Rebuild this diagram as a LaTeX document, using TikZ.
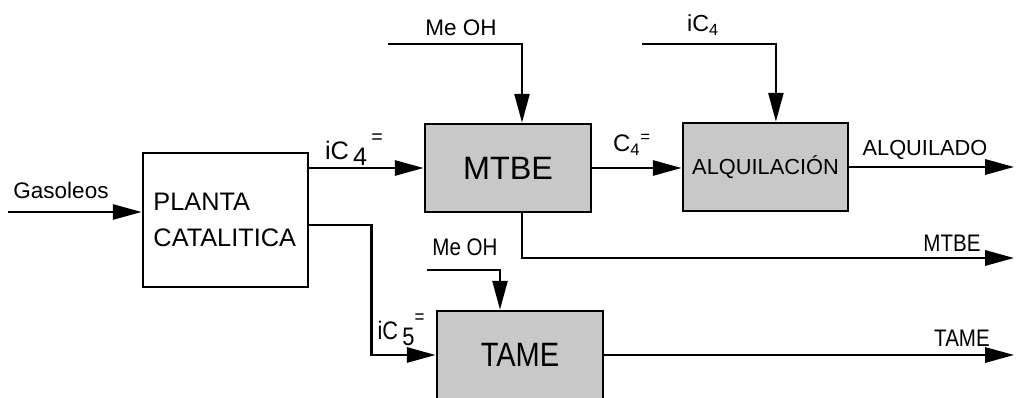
\documentclass[tikz,border=0pt]{standalone}
\usepackage{fontspec}
\setmainfont{Liberation Sans}
\newfontfamily\narrowsans{Liberation Sans}[FakeStretch=0.86]
\usetikzlibrary{arrows.meta,positioning}
\definecolor{unitgray}{RGB}{200,200,200}
\tikzset{
  unit/.style={rectangle, draw=black, line width=2pt, fill=white,
               minimum width=4.15cm, minimum height=2.2cm, align=center,
               font=\fontsize{23}{26}\selectfont},
  reactor/.style={unit, fill=unitgray},
  flow/.style={-{Triangle[length=0.72cm,width=0.38cm]}, line width=1.6pt},
  feed/.style={flow, line width=1.3pt},
  streamlbl/.style={font=\fontsize{15.5}{18}\selectfont, inner sep=1pt},
  narrowlbl/.style={streamlbl, font=\narrowsans\fontsize{17}{19}\selectfont},
}
\begin{document}
\begin{tikzpicture}[x=0.025cm, y=-0.025cm]
\useasboundingbox (0,0) rectangle (1016,398);
% process units
\node[unit, minimum width=4.125cm, minimum height=3.35cm, text width=3.6cm,
      align=left, font=\fontsize{18}{25.5}\selectfont] (planta) at (225.5,220) {PLANTA\\CATALITICA};
\node[reactor] (mtbe) at (508,168) {MTBE};
\node[reactor, minimum width=4.125cm, font=\fontsize{15.5}{18}\selectfont] (alq) at (765.5,167) {ALQUILACIÓN};
\node[reactor, font=\narrowsans\fontsize{24}{28}\selectfont] (tame) at (520,355) {TAME};
% free ends of the streams
\coordinate (gasin) at (8,212);
\coordinate (meohA) at (388,44);
\coordinate (ic4in) at (642,44);
\coordinate (meohB) at (427,270);
\coordinate (alqout) at (1014,167);
\coordinate (mtbeout) at (1014,258);
\coordinate (tameout) at (1014,355);
% streams
\draw[flow] (gasin) -- (gasin -| planta.west);
\draw[flow] (planta.east |- mtbe.west) -- (mtbe.west);
\draw[flow] (mtbe.east) -- (mtbe.east -| alq.west);
\draw[flow] (alq.east) -- (alqout);
\draw[feed] (meohA) -| ([xshift=0.35cm]mtbe.north);
\draw[feed] (ic4in) -| ([xshift=0.26cm]alq.north);
\draw[flow] ([xshift=0.35cm]mtbe.south) |- (mtbeout);
\draw[flow] ([yshift=-0.125cm]planta.east) -- ++(62,0) |- (tame.west);
\draw[feed] (meohB) -| ([xshift=-0.5cm]tame.north);
\draw[flow] (tame.east) -- (tameout);
% labels
\node[streamlbl, font=\fontsize{16}{18}\selectfont] (gaslbl) at (61,190) {Gasoleos};
\node[streamlbl, font=\fontsize{16}{18}\selectfont] (meohlblA) at (461,28) {Me OH};
\node[streamlbl, font=\fontsize{16.5}{18}\selectfont] (ic4lbl) at (703,25) {iC\textsubscript{4}};
\node[streamlbl, font=\fontsize{18}{20}\selectfont] (ic4olbl) at (354,150)
  {iC\,\raisebox{-0.45ex}{4}\,\raisebox{1.2ex}{\fontsize{14}{14}\selectfont=}};
\node[streamlbl, font=\fontsize{17}{19}\selectfont] (c4olbl) at (632,145) {C\textsubscript{4}\textsuperscript{=}};
\node[streamlbl] (alqlbl) at (925,150) {ALQUILADO};
\node[narrowlbl] (mtbelbl) at (952,243) {MTBE};
\node[narrowlbl] (meohlblB) at (465,247) {Me OH};
\node[narrowlbl, font=\narrowsans\fontsize{18}{20}\selectfont] (ic5olbl) at (401,330)
  {iC\,\raisebox{-0.45ex}{5}\raisebox{1.2ex}{\fontsize{14}{14}\selectfont=}};
\node[narrowlbl] (tamelbl) at (962,338) {TAME};
\end{tikzpicture}
\end{document}
